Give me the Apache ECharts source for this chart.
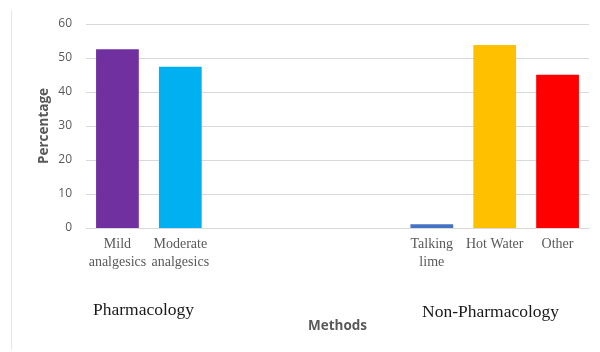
<!DOCTYPE html>
<html>
<head>
<meta charset="utf-8">
<style>
  html, body { margin: 0; padding: 0; background: #fff; }
  #chart { width: 600px; height: 352px; }
</style>
<script src="https://cdn.jsdelivr.net/npm/echarts@6/dist/echarts.min.js"></script>
</head>
<body>
<div id="chart"></div>
<script>
// Pain-relief methods, percentage of respondents
const categories = ['Mild\nanalgesics', 'Moderate\nanalgesics', '', '', '', 'Talking\nlime', 'Hot Water', 'Other'];
const values = [52.6, 47.4, null, null, null, 1.1, 53.8, 45.1];
const barColors = ['#7030A0', '#00B0F0', '#4472C4', '#4472C4', '#4472C4', '#4472C4', '#FFC000', '#FF0000'];
const yTicks = [0, 10, 20, 30, 40, 50, 60];
const groupLabels = ['Pharmacology', 'Non-Pharmacology'];

const chart = echarts.init(document.getElementById('chart'));

chart.setOption({
  animation: false,
  backgroundColor: '#ffffff',
  grid: { left: 86, right: 11, top: 24, bottom: 124, containLabel: false },
  xAxis: {
    type: 'category',
    data: categories,
    name: 'Methods',
    nameLocation: 'middle',
    nameGap: 91,
    nameMoveOverlap: false,
    nameTextStyle: { fontFamily: 'Open Sans', fontWeight: 'bold', fontSize: 13.5, color: '#595959' },
    axisLine: { lineStyle: { color: '#d9d9d9', width: 1 } },
    axisTick: { show: false },
    axisLabel: {
      interval: 0,
      margin: 8,
      fontFamily: 'Liberation Serif',
      fontSize: 14,
      lineHeight: 17.5,
      color: '#595959'
    }
  },
  yAxis: {
    type: 'value',
    min: yTicks[0],
    max: yTicks[yTicks.length - 1],
    interval: 10,
    name: 'Percentage',
    nameLocation: 'middle',
    nameGap: 35,
    nameMoveOverlap: false,
    nameTextStyle: { fontFamily: 'Open Sans', fontWeight: 'bold', fontSize: 13.5, color: '#595959' },
    axisLine: { show: false },
    axisTick: { show: false },
    axisLabel: { margin: 14, fontFamily: 'Open Sans', fontSize: 12, color: '#595959' },
    splitLine: { lineStyle: { color: '#d9d9d9', width: 1 } }
  },
  series: [{
    type: 'bar',
    data: values.map((v, i) => ({ value: v, itemStyle: { color: barColors[i] } })),
    barWidth: '68%'
  }],
  graphic: [
    {
      type: 'line',
      shape: { x1: 11.5, y1: 10, x2: 11.5, y2: 350 },
      style: { stroke: '#e6e6e6', lineWidth: 1 }
    },
    {
      type: 'text',
      left: 93, top: 301,
      style: { text: groupLabels[0], font: '17.5px "Liberation Serif"', fill: '#1a1a1a' }
    },
    {
      type: 'text',
      left: 422, top: 303,
      style: { text: groupLabels[1], font: '17.5px "Liberation Serif"', fill: '#1a1a1a' }
    }
  ]
});
</script>
</body>
</html>
